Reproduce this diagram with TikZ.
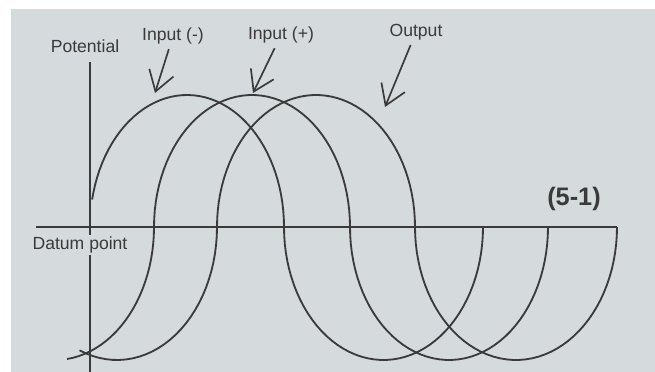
\documentclass[tikz,border=0pt]{standalone}
\usepackage{fontspec}
\setmainfont{Liberation Sans}
\usepackage{tikz}
\usetikzlibrary{arrows.meta, positioning}
\definecolor{notepaper}{RGB}{213, 218, 220}
\definecolor{noteink}{RGB}{58, 58, 58}
\tikzset{
    wave/.style={noteink, line width=1.3pt},
    pointer/.style={noteink, line width=1.2pt, -{Straight Barb[length=14pt, width=18pt]}},
    tag/.style={text=noteink, font=\fontsize{12.5}{14}\selectfont}
}

\begin{document}
\begin{tikzpicture}[x=0.025cm, y=-0.025cm]
        \useasboundingbox (0,0) rectangle (655,372);
        \fill[notepaper] (11,9) rectangle (655,372);

        % Assi
        \coordinate (axtop) at (90,62);
        \coordinate (axbot) at (90,372);
        \coordinate (dleft) at (36,227);
        \coordinate (dright) at (617,227);
        \draw[noteink, line width=1.2pt] (axtop) -- (axbot);
        \draw[noteink, line width=1.8pt] (dleft) -- (dright);

        % Input (-)
        \draw[wave] plot[domain=168:0, samples=50] ({187+97*cos(\x)}, {227-132*sin(\x)})
            -- plot[domain=180:0, samples=50] ({383.5+99.5*cos(\x)}, {227+133*sin(\x)});
        % Input (+)
        \draw[wave] plot[domain=83:0, samples=25] ({55+99*cos(\x)}, {227+133*sin(\x)})
            -- plot[domain=180:0, samples=50] ({252+98*cos(\x)}, {227-132*sin(\x)})
            -- plot[domain=180:0, samples=50] ({449+99*cos(\x)}, {227+133*sin(\x)});
        % Output
        \draw[wave] plot[domain=112:0, samples=30] ({117+100*cos(\x)}, {227+133*sin(\x)})
            -- plot[domain=180:0, samples=50] ({316+99*cos(\x)}, {227-132*sin(\x)})
            -- plot[domain=180:0, samples=50] ({516+101*cos(\x)}, {227+133*sin(\x)});

        % Etichette
        \node[tag] (pot) at (85,46) {Potential};
        \node[tag] (inminus) at (173,36) {Input (-)};
        \node[tag] (inplus) at (281,35) {Input (+)};
        \node[tag] (out) at (416,32) {Output};
        \node[tag, fill=notepaper, inner sep=1pt] (datum) at (80,245) {Datum point};
        \node[text=noteink, font=\fontsize{18}{20}\selectfont\bfseries] (fig) at (574,199) {(5-1)};

        % Frecce
        \coordinate (tipminus) at (155,93);
        \coordinate (tipplus) at (253,93);
        \coordinate (tipout) at (385,107);
        \draw[pointer] (inminus) -- (tipminus);
        \draw[pointer] (inplus) -- (tipplus);
        \draw[pointer] (out) -- (tipout);
    \end{tikzpicture}
\end{document}
